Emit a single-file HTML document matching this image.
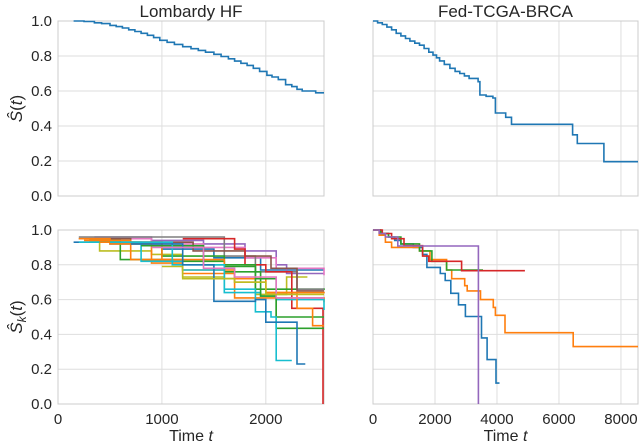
<!DOCTYPE html>
<html><head><meta charset="utf-8"><style>
body{margin:0;background:#fff;}
svg{display:block;font-family:"Liberation Sans",sans-serif;}
</style></head><body>
<svg id="chart" width="640" height="444" viewBox="0 0 640 444" xmlns="http://www.w3.org/2000/svg"></svg>
<script>
// ---- data ----
const lombardyGlobal = [[150,1.0],[250,0.997],[350,0.99],[420,0.985],[500,0.975],[560,0.968],[620,0.96],[680,0.95],[740,0.94],[800,0.93],[860,0.918],[920,0.905],[980,0.89],[1050,0.878],[1120,0.866],[1200,0.853],[1280,0.842],[1350,0.832],[1420,0.822],[1500,0.81],[1570,0.797],[1640,0.784],[1700,0.771],[1760,0.758],[1820,0.746],[1880,0.73],[1940,0.712],[2010,0.69],[2060,0.68],[2120,0.665],[2190,0.636],[2250,0.625],[2300,0.61],[2350,0.60],[2480,0.59],[2560,0.59]];
const tcgaGlobal = [[0,1.0],[150,0.99],[300,0.98],[450,0.965],[600,0.95],[750,0.93],[900,0.915],[1050,0.9],[1190,0.885],[1350,0.873],[1500,0.862],[1650,0.843],[1800,0.822],[1935,0.805],[2050,0.79],[2150,0.772],[2300,0.752],[2480,0.73],[2650,0.712],[2800,0.70],[2950,0.686],[3100,0.672],[3390,0.653],[3450,0.577],[3650,0.57],[3870,0.56],[3950,0.474],[4280,0.45],[4470,0.41],[6440,0.35],[6590,0.30],[7450,0.196],[8550,0.196]];
const lombardyClients = [
 {c:"#1f77b4",p:[[150,0.93],[500,0.92],[1000,0.89],[1500,0.84],[1950,0.77],[2560,0.77]]},
 {c:"#9467bd",p:[[350,0.96],[900,0.94],[1400,0.92],[1800,0.88],[2100,0.80],[2200,0.75],[2560,0.75]]},
 {c:"#e377c2",p:[[300,0.95],[900,0.92],[1400,0.90],[1800,0.84],[2100,0.78],[2560,0.74]]},
 {c:"#bcbd22",p:[[350,0.93],[400,0.88],[900,0.86],[1200,0.73],[1600,0.72],[1900,0.63],[2200,0.73],[2400,0.73]]},
 {c:"#2ca02c",p:[[300,0.94],[600,0.83],[1100,0.82],[1600,0.79],[1900,0.66],[2560,0.665]]},
 {c:"#7f7f7f",p:[[200,0.96],[1300,0.96],[1600,0.85],[1900,0.76],[2300,0.66],[2560,0.66]]},
 {c:"#8c564b",p:[[200,0.95],[700,0.93],[1300,0.88],[1800,0.85],[2050,0.78],[2300,0.65],[2560,0.65]]},
 {c:"#ff7f0e",p:[[250,0.94],[700,0.83],[1200,0.75],[1700,0.70],[2000,0.64],[2560,0.645]]},
 {c:"#d62728",p:[[1200,0.95],[1700,0.89],[1800,0.80],[2000,0.76],[2250,0.55],[2550,0.54],[2550,0.0]]},
 {c:"#ff7f0e",p:[[200,0.95],[500,0.92],[900,0.81],[1200,0.77],[1700,0.61],[2560,0.585]]},
 {c:"#17becf",p:[[200,0.93],[800,0.82],[1200,0.77],[1600,0.64],[1950,0.62],[2100,0.60],[2560,0.54]]},
 {c:"#2ca02c",p:[[400,0.93],[1000,0.85],[1600,0.76],[1950,0.62],[2100,0.50],[2560,0.50]]},
 {c:"#ff7f0e",p:[[400,0.93],[1000,0.83],[1600,0.72],[2000,0.64],[2300,0.55],[2450,0.45],[2560,0.45]]},
 {c:"#2ca02c",p:[[800,0.91],[1400,0.80],[1900,0.72],[2100,0.435],[2560,0.435]]},
 {c:"#17becf",p:[[500,0.93],[1100,0.80],[1600,0.66],[1900,0.53],[2050,0.50],[2100,0.25],[2250,0.25]]},
 {c:"#1f77b4",p:[[700,0.92],[1200,0.80],[1500,0.68],[1500,0.59],[1900,0.60],[2000,0.47],[2300,0.47],[2300,0.23],[2380,0.23]]},
 {c:"#e377c2",p:[[900,0.90],[1400,0.78],[1700,0.73],[2100,0.61],[2560,0.61]]},
 {c:"#bcbd22",p:[[1000,0.79],[1200,0.72],[1700,0.70],[2000,0.63],[2560,0.63]]}
];
const tcgaClients = [
 {c:"#1f77b4",p:[[0,1.0],[250,0.98],[500,0.96],[700,0.94],[900,0.92],[1300,0.90],[1600,0.86],[1740,0.785],[2170,0.75],[2330,0.71],[2510,0.636],[2760,0.57],[2980,0.503],[3500,0.38],[3680,0.255],[3970,0.12],[4080,0.12]]},
 {c:"#ff7f0e",p:[[0,1.0],[200,0.97],[400,0.93],[600,0.90],[1500,0.88],[1840,0.83],[2375,0.77],[2540,0.72],[2960,0.68],[3040,0.65],[3470,0.60],[3880,0.555],[3950,0.51],[4260,0.41],[6460,0.33],[8550,0.33]]},
 {c:"#2ca02c",p:[[0,1.0],[250,0.98],[500,0.96],[900,0.92],[1500,0.88],[1900,0.82],[2375,0.77],[3550,0.77]]},
 {c:"#d62728",p:[[0,1.0],[300,0.98],[600,0.95],[1000,0.91],[1600,0.85],[1800,0.82],[2860,0.766],[4900,0.766]]},
 {c:"#9467bd",p:[[0,1.0],[200,0.98],[400,0.96],[800,0.908],[3400,0.908],[3400,0.0]]}
];
const leftXTicks=[0,1000,2000], rightXTicks=[0,2000,4000,6000,8000], yTicks=[0,0.2,0.4,0.6,0.8,1.0];

const svg=document.getElementById('chart');
const NS="http://www.w3.org/2000/svg";
function el(tag,attrs,parent){const e=document.createElementNS(NS,tag);for(const k in attrs)e.setAttribute(k,attrs[k]);(parent||svg).appendChild(e);return e;}

function panel(name,x0,x1,y0,y1,xmax,xTicks,showX,showY,series,title,ylab){
  const g=el('g',{});
  
  
  const sx=t=>x0+(x1-x0)*t/xmax, sy=v=>y1-(y1-y0)*v;
  yTicks.forEach(v=>{
    const l=el('line',{x1:x0,x2:x1,y1:sy(v),y2:sy(v),stroke:'#dedede','stroke-width':1},g);
    
    if(showY){const t=el('text',{x:x0-6,y:sy(v)+5,'text-anchor':'end','font-size':15,fill:'#262626'},g);t.textContent=v.toFixed(1);
      }
  });
  xTicks.forEach(v=>{
    const l=el('line',{x1:sx(v),x2:sx(v),y1:y0,y2:y1,stroke:'#dedede','stroke-width':1},g);
    
    if(showX){const t=el('text',{x:sx(v),y:y1+20,'text-anchor':'middle','font-size':15,fill:'#262626'},g);t.textContent=String(v);
      }
  });
  const fr=el('rect',{x:x0,y:y0,width:x1-x0,height:y1-y0,fill:'none',stroke:'#cccccc','stroke-width':1},g);
  
  series.forEach(s=>{
    let d='';
    s.p.forEach((pt,i)=>{
      if(i===0)d+='M'+sx(pt[0]).toFixed(1)+','+sy(pt[1]).toFixed(1);
      else d+='H'+sx(pt[0]).toFixed(1)+'V'+sy(pt[1]).toFixed(1);
    });
    const p=el('path',{d:d,fill:'none',stroke:s.c,'stroke-width':1.6},g);
    
  });
  if(title){const t=el('text',{x:(x0+x1)/2,y:y0-4,'text-anchor':'middle','font-size':17,fill:'#262626'},g);t.textContent=title;
    }
  if(showX){const t=el('text',{x:(x0+x1)/2,y:y1+37,'text-anchor':'middle','font-size':16,fill:'#262626'},g);
    t.innerHTML='Time <tspan font-style="italic">t</tspan>';
    }
  if(ylab){const cy=(y0+y1)/2;const t=el('text',{x:0,y:0,'text-anchor':'middle','font-size':17,fill:'#262626',transform:'translate(22,'+cy+') rotate(-90)'},g);
    t.innerHTML=ylab;
    }
}
panel('panel-lombardy-global',58,324,21,196,2560,leftXTicks,false,true,[{c:'#1f77b4',p:lombardyGlobal}],'Lombardy HF','<tspan font-style="italic">Ŝ</tspan>(<tspan font-style="italic">t</tspan>)');
panel('panel-tcga-global',373,638,21,196,8550,rightXTicks,false,false,[{c:'#1f77b4',p:tcgaGlobal}],'Fed-TCGA-BRCA',null);
panel('panel-lombardy-clients',58,324,230,404,2560,leftXTicks,true,true,lombardyClients,null,'<tspan font-style="italic">Ŝ</tspan><tspan font-size="12" dy="4" font-style="italic">k</tspan><tspan dy="-4">(</tspan><tspan font-style="italic">t</tspan>)');
panel('panel-tcga-clients',373,638,230,404,8550,rightXTicks,true,false,tcgaClients,null,null);
</script>
</body></html>
